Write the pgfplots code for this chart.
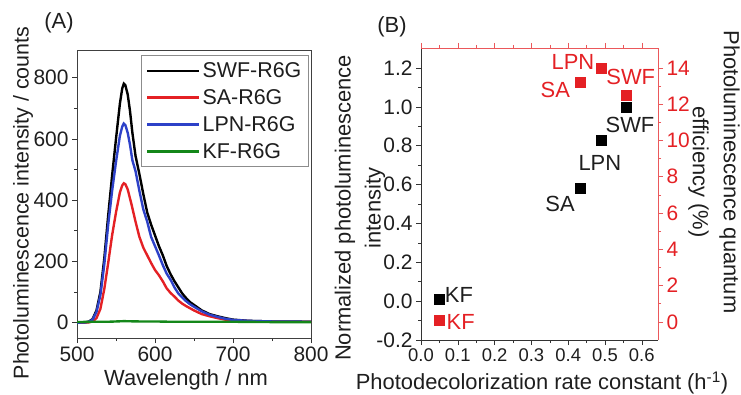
\documentclass[border=0pt]{standalone}
\usepackage{pgfplots}
\pgfplotsset{compat=1.18}
\usepackage{fontspec}
\setmainfont{Liberation Sans}
\definecolor{myred}{RGB}{228,32,36}
\definecolor{myblue}{RGB}{45,65,200}
\definecolor{mygreen}{RGB}{20,135,25}
\definecolor{txt}{RGB}{30,30,30}

\pgfplotstableread{
x y
500 0
510 1
515 3
520 12
525 40
530 100
535 210
540 350
545 480
550 600
555 715
558 765
560 780
562 775
565 745
568 690
571 620
575 545
580 485
585 420
590 360
595 320
600 285
605 250
610 220
615 185
620 158
625 135
630 115
635 95
640 80
645 67
650 58
660 40
670 28
680 21
690 15
700 10
720 6
750 4
800 3
}\swf

\pgfplotstableread{
x y
500 0
515 1
520 4
525 15
530 45
535 110
540 195
545 285
550 360
555 425
558 448
560 455
562 452
565 435
570 385
575 330
580 280
585 245
590 220
595 195
600 172
605 155
610 135
615 112
620 97
625 85
630 72
635 62
640 54
650 40
660 28
670 21
680 15
690 10
700 7
720 5
750 3
800 3
}\sa

\pgfplotstableread{
x y
500 0
510 1
515 3
520 10
525 35
530 90
535 190
540 320
545 430
550 525
555 610
558 640
560 650
562 645
565 620
568 580
571 530
575 495
580 430
585 370
590 330
595 280
600 250
605 220
610 188
615 160
620 140
625 115
630 95
635 82
640 70
645 60
650 52
660 37
670 26
680 19
690 13
700 9
720 6
750 4
800 3
}\lpn

\pgfplotstableread{
x y
500 2
520 3
540 3
560 5
580 4
600 4
620 3
650 3
700 3
750 2
800 2
}\kf

\begin{document}
\begin{tikzpicture}
\useasboundingbox (0,0) rectangle (741bp,-395bp);

% ---------- Panel A ----------
\begin{axis}[
  at={(77bp,-338bp)}, anchor=south west,
  scale only axis, width=234bp, height=288bp,
  xmin=500, xmax=800, ymin=-50, ymax=890,
  xtick={500,600,700,800}, ytick={0,200,400,600,800},
  minor x tick num=1, minor y tick num=1,
  tick align=outside, tick pos=left,
  major tick length=5bp, minor tick length=3bp,
  axis line style={black!75, line width=0.8pt},
  every tick/.style={black!80, line width=0.6pt},
  tick label style={font=\fontsize{21}{24}\selectfont, text=txt},
  /pgf/number format/assume math mode=true,
  legend style={at={(rel axis cs:0.99,0.982)}, anchor=north east,
    draw=black!45, line width=0.6pt, font=\fontsize{21.5}{23}\selectfont,
    row sep=6.5bp, inner xsep=5bp, inner ysep=5bp, text=txt},
  legend cell align=left,
  legend image code/.code={\draw[#1, line width=2.4pt] (0bp,0bp) -- (52bp,0bp);},
]
\addplot[black, line width=2.4pt] table[x=x,y=y] {\swf};
\addlegendentry{SWF-R6G}
\addplot[myred, line width=2.4pt] table[x=x,y=y] {\sa};
\addlegendentry{SA-R6G}
\addplot[myblue, line width=2.4pt] table[x=x,y=y] {\lpn};
\addlegendentry{LPN-R6G}
\addplot[mygreen, line width=2.4pt] table[x=x,y=y] {\kf};
\addlegendentry{KF-R6G}
\end{axis}

% ---------- Panel B, left axis ----------
\begin{axis}[
  at={(421bp,-340bp)}, anchor=south west,
  scale only axis, width=237bp, height=292bp,
  xmin=0, xmax=0.644, ymin=-0.2, ymax=1.303,
  xtick={0,0.1,0.2,0.3,0.4,0.5,0.6},
  ytick={-0.2,0,0.2,0.4,0.6,0.8,1.0,1.2},
  minor x tick num=1, minor y tick num=1,
  axis x line*=bottom, axis y line*=left,
  tick align=outside,
  major tick length=5bp, minor tick length=3bp,
  axis line style={black!80, line width=0.8pt, -},
  every tick/.style={black!80, line width=0.6pt},
  xticklabel style={font=\fontsize{18.5}{20}\selectfont, text=txt, inner xsep=0pt,
    /pgf/number format/.cd, fixed, fixed zerofill, precision=1},
  yticklabel style={font=\fontsize{21}{24}\selectfont, text=txt,
    /pgf/number format/.cd, fixed, fixed zerofill, precision=1},
  /pgf/number format/assume math mode=true,
  clip=false,
]
\addplot[only marks, mark=square*, mark size=5bp, black] coordinates {
  (0.05,0.01) (0.432,0.58) (0.49,0.83) (0.557,1.0)
};
\node[text=txt, font=\fontsize{22}{24}\selectfont] at (axis cs:0.103,0.03) {KF};
\node[text=txt, font=\fontsize{22}{24}\selectfont] at (axis cs:0.378,0.499) {SA};
\node[text=txt, font=\fontsize{22}{24}\selectfont] at (axis cs:0.486,0.710) {LPN};
\node[text=txt, font=\fontsize{22}{24}\selectfont] at (axis cs:0.568,0.906) {SWF};
\node[text=myred, font=\fontsize{22}{24}\selectfont] at (axis cs:0.108,-0.109) {KF};
\node[text=myred, font=\fontsize{22}{24}\selectfont] at (axis cs:0.365,1.087) {SA};
\node[text=myred, font=\fontsize{22}{24}\selectfont] at (axis cs:0.413,1.231) {LPN};
\node[text=myred, font=\fontsize{22}{24}\selectfont] at (axis cs:0.570,1.154) {SWF};
\end{axis}

% ---------- Panel B, right axis ----------
\begin{axis}[
  at={(421bp,-340bp)}, anchor=south west,
  scale only axis, width=237bp, height=292bp,
  xmin=0, xmax=0.644, ymin=-1, ymax=15.1,
  xtick={0,0.1,0.2,0.3,0.4,0.5,0.6}, xticklabels={},
  ytick={0,2,4,6,8,10,12,14},
  minor x tick num=1, minor y tick num=1,
  axis x line*=top, axis y line*=right,
  tick align=outside,
  major tick length=5bp, minor tick length=3bp,
  axis line style={myred!75, line width=0.8pt, -},
  every tick/.style={myred!75, line width=0.6pt},
  yticklabel style={font=\fontsize{21}{24}\selectfont, text=myred},
  /pgf/number format/assume math mode=true,
]
\addplot[only marks, mark=square*, mark size=5bp, myred] coordinates {
  (0.05,0.1) (0.432,13.2) (0.49,14.0) (0.557,12.5)
};
\end{axis}

% ---------- labels ----------
\node[font=\fontsize{22}{26}\selectfont, text=txt] at (59bp,-23bp) {(A)};
\node[font=\fontsize{22}{26}\selectfont, text=txt] at (392bp,-27bp) {(B)};
\node[font=\fontsize{22}{26}\selectfont, text=txt] at (186bp,-380bp) {Wavelength / nm};
\node[font=\fontsize{21.5}{25}\selectfont, text=txt, rotate=90] at (23bp,-203bp) {Photoluminescence intensity / counts};
\node[font=\fontsize{22}{26}\selectfont, text=txt] at (542bp,-383bp) {Photodecolorization rate constant (h\textsuperscript{-1})};
\node[font=\fontsize{22}{30}\selectfont, text=txt, rotate=90, align=center] at (360bp,-208bp) {Normalized photoluminescence\\intensity};
\node[font=\fontsize{22}{31}\selectfont, text=txt, rotate=-90, align=center] at (714bp,-172bp) {Photoluminescence quantum\\efficiency (\%)};
\end{tikzpicture}
\end{document}
